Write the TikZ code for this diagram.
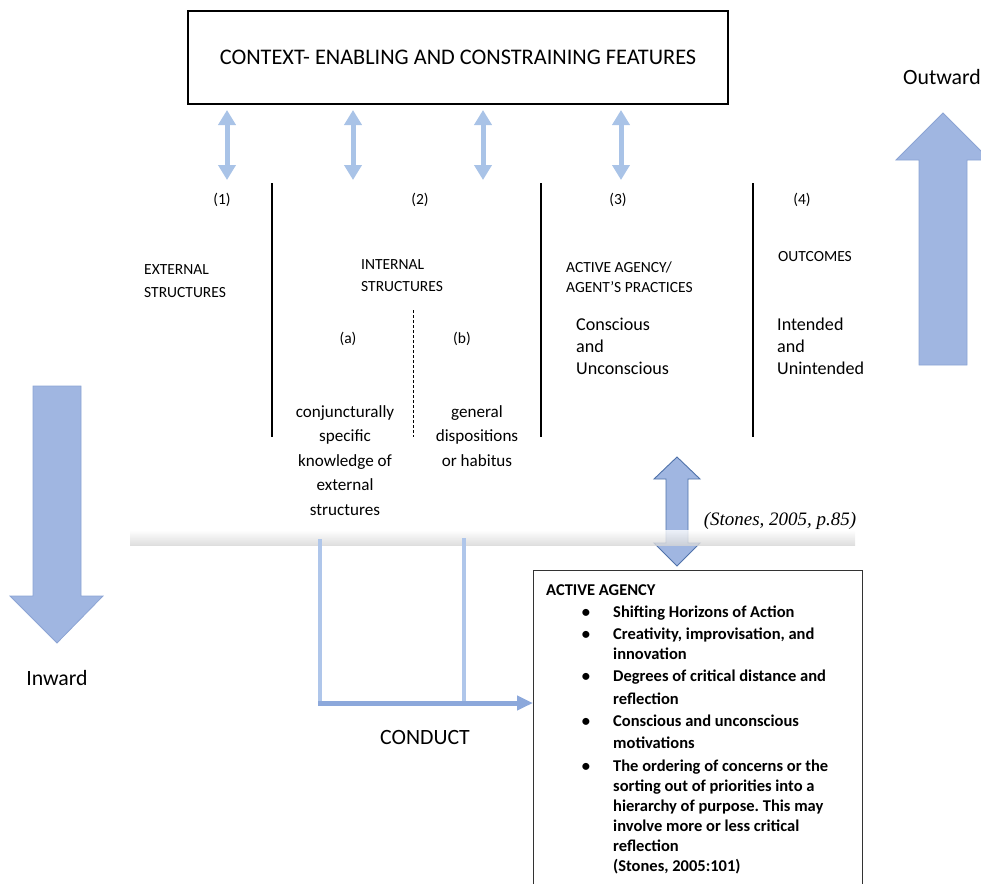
\documentclass[tikz,border=0pt]{standalone}
\usepackage{fontspec}
\setmainfont{Carlito}
\newfontfamily\citefont{Liberation Serif}
\usetikzlibrary{arrows.meta}
\frenchspacing

\definecolor{linkblue}{HTML}{A9C3E7}
\definecolor{bigfill}{HTML}{A0B6E1}
\definecolor{bigedge}{HTML}{8CA4D4}
\definecolor{darkedge}{HTML}{4F72AA}
\definecolor{conductv}{HTML}{AFC6EA}
\definecolor{conducth}{HTML}{8CA8DB}
\definecolor{boxgray}{HTML}{333333}

\begin{document}
\begin{tikzpicture}[x=1pt,y=-1pt,
  lbl/.style={inner sep=0pt, anchor=base},
  lblw/.style={inner sep=0pt, anchor=base west},
  capsfont/.style={font=\fontsize{15.5}{18}\selectfont},
  bodyfont/.style={font=\fontsize{17.1}{20}\selectfont},
  midfont/.style={font=\fontsize{18.1}{22}\selectfont},
  bigfont/.style={font=\fontsize{21.8}{25}\selectfont},
  itemfont/.style={font=\fontsize{16.5}{20}\bfseries\selectfont},
  linkarrow/.style={draw=linkblue, line width=5pt,
    {Triangle[width=17pt,length=15pt]}-{Triangle[width=17pt,length=15pt]}},
  divider/.style={draw=black, line width=1.3pt},
  blockarrow/.style={fill=bigfill, draw=bigedge, line width=0.8pt},
  conductline/.style={draw=conductv, line width=4pt},
  conductarrow/.style={draw=conducth, line width=5pt, -{Triangle[width=14pt,length=16pt]}}
]
\useasboundingbox (0,0) rectangle (981,883);

% context box
\node[draw=black, line width=2pt, minimum width=540, minimum height=93,
      anchor=north west, inner sep=0pt, font=\fontsize{22.3}{26}\selectfont]
      (ctx) at (187,10) {CONTEXT- ENABLING AND CONSTRAINING FEATURES};

% links between context and the four columns
\foreach \x/\n in {227/1,353/2,483/3,621/4}{
  \coordinate (lb\n) at (\x,180);
  \draw[linkarrow, shorten <=5pt] (ctx.south -| lb\n) -- (lb\n);
}

% column dividers
\draw[divider] (272,183) -- (272,437);
\draw[divider] (541,183) -- (541,437);
\draw[divider] (753,183) -- (753,437);
\draw[black, line width=0.8pt, dash pattern=on 3pt off 2pt] (413,310) -- (413,437);

% column numbers
\node[lbl, capsfont] (n1) at (222,204) {(1)};
\node[lbl, capsfont] (n2) at (420,204) {(2)};
\node[lbl, capsfont] (n3) at (618,204) {(3)};
\node[lbl, capsfont] (n4) at (802,204) {(4)};

% column headings
\node[lblw, capsfont] (ext1) at (144,274) {EXTERNAL};
\node[lblw, capsfont] (ext2) at (144,297) {STRUCTURES};
\node[lblw, capsfont] (int1) at (361,269) {INTERNAL};
\node[lblw, capsfont] (int2) at (361,291) {STRUCTURES};
\node[lblw, capsfont] (act1) at (566,272) {ACTIVE AGENCY/};
\node[lblw, capsfont] (act2) at (566,292) {AGENT’S PRACTICES};
\node[lblw, capsfont] (out1) at (778,261) {OUTCOMES};

\node[lbl, capsfont] (suba) at (348,343) {(a)};
\node[lbl, capsfont] (subb) at (462,343) {(b)};

% internal structures detail
\foreach \t [count=\i] in {conjuncturally,specific,knowledge of,external,structures}
  \node[lbl, bodyfont] (conj\i) at (345,{417+24.5*(\i-1)}) {\t};
\foreach \t [count=\i] in {general,dispositions,or habitus}
  \node[lbl, bodyfont] (gen\i) at (477,{417+24.5*(\i-1)}) {\t};

\foreach \t [count=\i] in {Conscious,and,Unconscious}
  \node[lblw, midfont] (cons\i) at (576,{330+22*(\i-1)}) {\t};
\foreach \t [count=\i] in {Intended,and,Unintended}
  \node[lblw, midfont] (intd\i) at (777,{330+22*(\i-1)}) {\t};

% outward / inward arrows
\draw[blockarrow] (943,113) -- (990,160) -- (967,160) -- (967,365) -- (919,365)
  -- (919,160) -- (896,160) -- cycle;
\node[lbl, bigfont] (outward) at (942,84) {Outward};
\draw[blockarrow] (33,386) -- (81,386) -- (81,596) -- (103,596) -- (57,643)
  -- (10,596) -- (33,596) -- cycle;
\node[lbl, bigfont] (inward) at (57,685) {Inward};

% two-way arrow to the agency box
\draw[fill=bigfill, draw=darkedge, line width=0.9pt]
  (677,457) -- (700,479) -- (688,479) -- (688,543) -- (700,543) -- (677,566)
  -- (654,543) -- (666,543) -- (666,479) -- (654,479) -- cycle;

% shaded ground band
\shade[top color=white, bottom color=black!16, opacity=0.8] (130,530) rectangle (855,545);

\node[lbl, font=\citefont\itshape\fontsize{19}{22}\selectfont] (cite) at (780,525) {(Stones, 2005, p.85)};

% agency box
\begin{scope}
\clip (0,0) rectangle (981,883);
\node[draw=boxgray, line width=0.9pt, minimum width=329, minimum height=340,
      anchor=north west, inner sep=0pt] (agency) at (533,570) {};
\end{scope}
\node[lblw, itemfont] (agtitle) at (546,595) {ACTIVE AGENCY};
\foreach \y/\t [count=\i] in {617/{Shifting Horizons of Action},
    639/{Creativity, improvisation, and},659/{innovation},
    681/{Degrees of critical distance and},704/{reflection},
    726/{Conscious and unconscious},748/{motivations},
    771/{The ordering of concerns or the},791/{sorting out of priorities into a},
    811/{hierarchy of purpose. This may},831/{involve more or less critical},
    851/{reflection},871/{(Stones, 2005:101)}}
  \node[lblw, itemfont] (item\i) at (613,\y) {\t};
\foreach \y [count=\i] in {617,639,681,726,771}
  \node[lbl, itemfont] (bul\i) at (586,\y) {•};

% conduct lines
\coordinate (ca) at (320,539);
\coordinate (cb) at (464,538);
\coordinate (cc) at (320,703);
\draw[conductline] (ca) -- (cc);
\draw[conductline] (cb) -- (cb |- cc);
\draw[conductarrow] ([xshift=-2pt]cc) -- (agency.west |- cc);
\node[lbl, bigfont] (conduct) at (425,744) {CONDUCT};

\end{tikzpicture}
\end{document}
